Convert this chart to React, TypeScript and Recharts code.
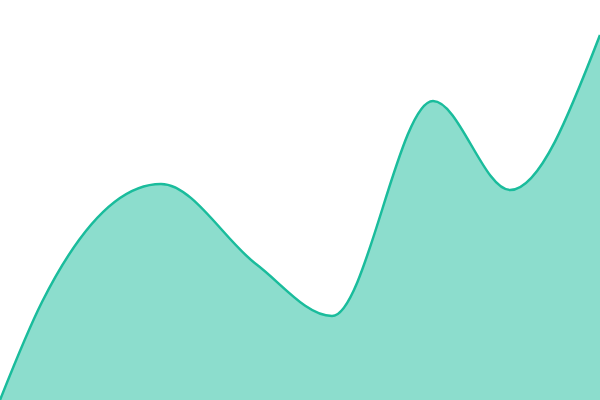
import React from "react";
import { AreaChart, Area, XAxis, YAxis } from "recharts";

const xValues = [0, 42, 161, 256, 332, 433, 510, 600];
const values = [0, 98, 216, 136, 84, 299, 210, 365];

const data = xValues.map((x, i) => ({ x, value: values[i] }));

export default function App() {
  return (
    <div style={{ position: "absolute", left: 0, top: 0, width: 600, height: 400, background: "#fff" }}>
      <AreaChart width={600} height={400} data={data} margin={{ top: 0, right: 0, bottom: 0, left: 0 }}>
        <XAxis dataKey="x" type="number" domain={[0, 600]} hide />
        <YAxis hide domain={[0, 400]} />
        <Area
          type="monotone"
          dataKey="value"
          stroke="#1abc9c"
          strokeWidth={2.5}
          fill="#1abc9c"
          fillOpacity={0.5}
          isAnimationActive={false}
          dot={false}
          activeDot={false}
        />
      </AreaChart>
    </div>
  );
}
